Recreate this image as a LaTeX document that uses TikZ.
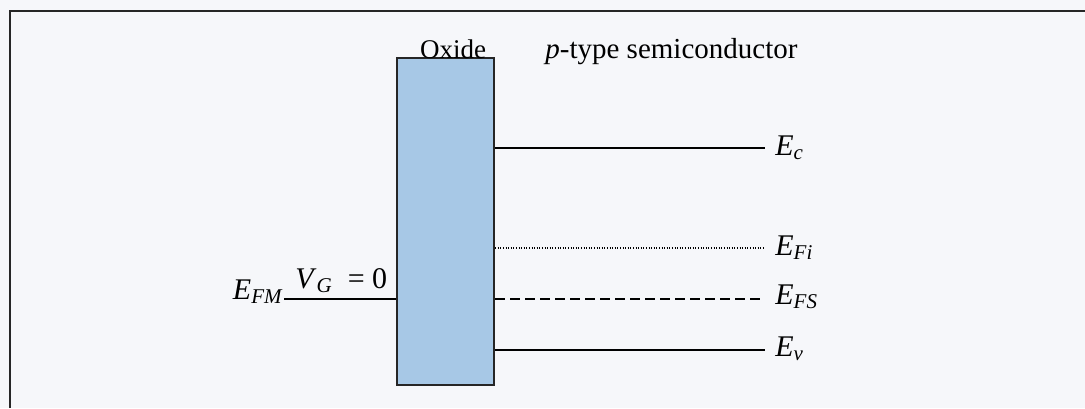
\documentclass[tikz,border=0pt]{standalone}
\usepackage{fontspec}
\setmainfont{Liberation Serif}
\usetikzlibrary{positioning}
\newcommand{\Elev}[1]{\textit{E}\textsubscript{\textit{#1}}}
\definecolor{oxblue}{RGB}{167,200,230}
\definecolor{pagebg}{RGB}{246,247,250}

\begin{document}
\begin{tikzpicture}[
  x=0.5pt, y=-0.5pt,
  frame/.style={line width=1.2pt, draw=black!85},
  oxbox/.style={draw=black!85, line width=1.1pt, fill=oxblue, inner sep=0pt,
                minimum width=48.5pt, minimum height=163.5pt},
  band/.style={line width=0.9pt},
  fermi/.style={line width=1.4pt, dash pattern=on 5pt off 2.5pt},
  intr/.style={line width=0.7pt, dash pattern=on 0.5pt off 0.8pt},
  lbl/.style={font=\fontsize{15}{18}\selectfont, inner sep=0pt, anchor=base west},
  ttl/.style={font=\fontsize{13.5}{16}\selectfont, inner sep=0pt}
]
\useasboundingbox (0,0) rectangle (1085,408);
\fill[pagebg] (0,0) rectangle (1085,408);
\draw[frame] (10,408) -- (10,11) -- (1085,11);

\node[oxbox] (ox) at (445.5,221.5) {};
\node[ttl, anchor=base]      (oxlbl) at (453,58) {Oxide};
\node[ttl, anchor=base west, font=\fontsize{14.5}{17}\selectfont]
  (semi) at (545,58) {\textit{p}-type semiconductor};

% metal side
\node[lbl, anchor=base east] (EFM) at (284,299) {\Elev{FM}};
\node[lbl] (VG) at (295,288) {\textit{V}\textsubscript{\textit{G}}\ \ = 0};
\draw[band] (EFM.base east) -- (ox.west |- EFM.base east);

% semiconductor levels
\coordinate (cR)  at (765,148);
\coordinate (fiR) at (765,248);
\coordinate (fsR) at (765,299);
\coordinate (vR)  at (765,350);
\draw[band]  (ox.east |- cR)  -- (cR);
\draw[intr]  (ox.east |- fiR) -- (fiR);
\draw[fermi] (ox.east |- fsR) -- (fsR);
\draw[band]  (ox.east |- vR)  -- (vR);

\node[lbl] (Ec)  at (775,155) {\Elev{c}};
\node[lbl] (EFi) at (775,255) {\Elev{Fi}};
\node[lbl] (EFS) at (775,304) {\Elev{FS}};
\node[lbl] (Ev)  at (775,356) {\Elev{v}};
\end{tikzpicture}
\end{document}
